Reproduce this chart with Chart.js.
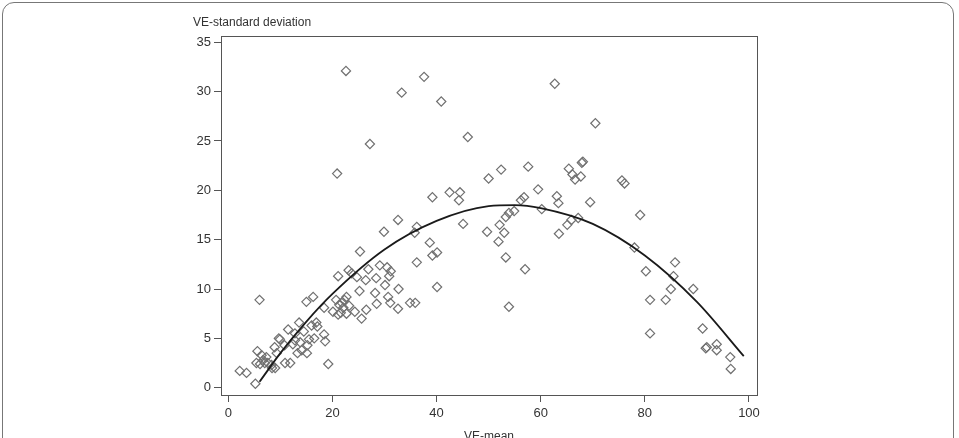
<!DOCTYPE html>
<html>
<head>
<meta charset="utf-8">
<script src="https://cdn.jsdelivr.net/npm/chart.js@4/dist/chart.umd.min.js"></script>
<style>
  html, body { margin: 0; padding: 0; background: #fff; overflow: hidden; }
  #frame {
    position: absolute; left: 2px; top: 2px; width: 952px; height: 470px;
    border: 1px solid #777; border-radius: 12px; box-sizing: border-box;
  }
  #wrap { position: absolute; left: 0; top: 0; width: 959px; height: 448px; }
</style>
</head>
<body>
<div id="frame"></div>
<div id="wrap"><canvas id="chart"></canvas></div>
<script>
// VE-mean / VE-standard deviation pairs
const veMean = [
  2.2, 3.5, 5.2, 5.6, 5.4, 6.1, 6.4, 6.0, 6.7, 7.3, 7.6, 8.4, 9.0, 9.3, 8.9, 9.7, 9.9, 10.9, 11.9, 11.5, 10.8, 7.0, 8.3,
  12.4, 12.8, 12.8, 13.6, 13.3, 14.1, 15.1, 13.8, 14.5, 15.0, 16.3, 16.0, 16.9, 17.1, 15.2, 15.5, 16.5, 18.4, 18.6, 19.2, 18.4,
  20.1, 20.7, 21.3, 21.1, 21.6, 21.8, 22.3, 22.7, 22.1, 22.7, 23.2, 24.3, 25.6, 26.5, 28.5, 31.1, 32.6, 34.9, 35.9,
  30.7, 28.2, 25.2, 30.1, 32.7, 40.1, 21.1, 23.1, 23.7, 24.7, 26.4, 28.4, 26.9, 29.1, 30.5, 31.2, 30.9, 25.3, 20.9, 27.2,
  29.9, 32.6, 36.2, 35.8, 36.2, 38.7, 39.2, 40.1, 39.2, 42.5, 44.5, 44.3, 45.1,
  22.6, 33.3, 37.6, 40.9, 46.0, 62.7, 70.5,
  50.0, 52.4, 57.6, 65.4, 66.1, 67.7, 66.6, 68.1, 67.9, 59.5, 63.1, 63.4, 69.5, 56.8, 56.2, 60.2, 54.9, 53.9, 53.3,
  52.1, 53.0, 49.7, 51.9, 53.3, 57.0, 53.9, 63.5, 65.1, 65.9, 67.2,
  75.6, 76.1, 79.1, 78.0, 85.8, 80.2, 85.5, 89.3, 85.0, 81.0, 84.0, 81.0, 91.1, 91.9, 91.7, 93.8, 93.8, 96.4, 96.5
];
const veSd = [
  1.7, 1.5, 0.4, 3.7, 2.5, 2.4, 3.3, 8.9, 2.8, 3.1, 2.5, 2.0, 2.0, 3.5, 4.1, 5.0, 4.9, 2.5, 2.5, 5.9, 4.3, 2.5, 2.3,
  4.4, 5.5, 4.8, 6.6, 3.5, 3.8, 3.5, 4.6, 5.7, 8.7, 9.2, 6.3, 6.6, 6.2, 4.3, 4.9, 5.0, 5.4, 4.7, 2.4, 8.1,
  7.7, 8.9, 8.4, 7.4, 7.6, 8.6, 8.9, 9.2, 8.1, 7.5, 8.3, 7.7, 7.0, 7.9, 8.5, 8.6, 8.0, 8.6, 8.6,
  9.2, 9.6, 9.8, 10.4, 10.0, 10.2, 11.3, 11.9, 11.6, 11.2, 10.9, 11.1, 12.0, 12.4, 12.2, 11.8, 11.3, 13.8, 21.7, 24.7,
  15.8, 17.0, 16.3, 15.7, 12.7, 14.7, 13.4, 13.7, 19.3, 19.8, 19.8, 19.0, 16.6,
  32.1, 29.9, 31.5, 29.0, 25.4, 30.8, 26.8,
  21.2, 22.1, 22.4, 22.2, 21.6, 21.4, 21.1, 22.9, 22.8, 20.1, 19.4, 18.7, 18.8, 19.3, 19.0, 18.1, 17.9, 17.7, 17.3,
  16.5, 15.7, 15.8, 14.8, 13.2, 12.0, 8.2, 15.6, 16.5, 17.0, 17.2,
  21.0, 20.7, 17.5, 14.2, 12.7, 11.8, 11.3, 10.0, 10.0, 8.9, 8.9, 5.5, 6.0, 4.1, 4.0, 4.4, 3.8, 3.1, 1.9
];

// fitted curve
const fitX = [6, 10, 15, 20, 30, 40, 50, 55, 60, 70, 80, 90, 99];
const fitY = [0.6, 3.5, 6.7, 9.5, 14.0, 16.9, 18.4, 18.5, 18.2, 16.6, 13.4, 8.7, 3.2];

const xTicks = [0, 20, 40, 60, 80, 100];
const yTicks = [0, 5, 10, 15, 20, 25, 30, 35];

const points = veMean.map((x, i) => ({ x: x, y: veSd[i] }));
const curve = fitX.map((x, i) => ({ x: x, y: fitY[i] }));

const inkColor = '#555';

const boxPlugin = {
  id: 'box',
  afterDraw(chart) {
    const { ctx, chartArea: a } = chart;
    ctx.save();
    ctx.strokeStyle = inkColor;
    ctx.lineWidth = 1;
    ctx.strokeRect(Math.round(a.left) + 0.5, Math.round(a.top) + 0.5,
      Math.round(a.right - a.left), Math.round(a.bottom - a.top));
    // y axis title sits horizontally above the axis
    ctx.fillStyle = '#333';
    ctx.font = '12px "Liberation Sans", Arial, sans-serif';
    ctx.textAlign = 'left';
    ctx.textBaseline = 'alphabetic';
    ctx.fillText('VE-standard deviation', a.left - 28, a.top - 10);
    ctx.restore();
  }
};

new Chart(document.getElementById('chart'), {
  type: 'scatter',
  data: {
    datasets: [
      {
        label: 'VE',
        data: points,
        pointStyle: 'rectRot',
        pointRadius: 4.6,
        pointBorderColor: '#707070',
        pointBackgroundColor: 'rgba(255,255,255,0)',
        pointBorderWidth: 1.2,
        order: 2
      },
      {
        type: 'line',
        label: 'fit',
        data: curve,
        borderColor: '#1a1a1a',
        borderWidth: 1.8,
        pointRadius: 0,
        fill: false,
        cubicInterpolationMode: 'monotone',
        order: 1
      }
    ]
  },
  options: {
    responsive: true,
    maintainAspectRatio: false,
    animation: false,
    layout: { padding: { left: 0, right: 202, top: 36, bottom: 0 } },
    plugins: {
      legend: { display: false },
      tooltip: { enabled: false }
    },
    scales: {
      x: {
        type: 'linear',
        min: -1.4,
        max: 101.54,
        afterBuildTicks: s => { s.ticks = xTicks.map(v => ({ value: v })); },
        afterFit: s => { s.height = 53; },
        grid: { drawOnChartArea: false, drawTicks: true, tickLength: 7, color: inkColor },
        border: { display: true, color: inkColor },
        ticks: {
          color: '#333',
          padding: 4,
          maxRotation: 0,
          font: { family: '"Liberation Sans", Arial, sans-serif', size: 13 }
        },
        title: {
          display: true,
          text: 'VE-mean',
          color: '#333',
          padding: { top: 0, bottom: 4 },
          font: { family: '"Liberation Sans", Arial, sans-serif', size: 12 }
        }
      },
      y: {
        type: 'linear',
        min: -0.74,
        max: 35.64,
        afterBuildTicks: s => { s.ticks = yTicks.map(v => ({ value: v })); },
        afterFit: s => { s.width = 221; },
        grid: { drawOnChartArea: false, drawTicks: true, tickLength: 7, color: inkColor },
        border: { display: true, color: inkColor },
        ticks: {
          color: '#333',
          padding: 3,
          font: { family: '"Liberation Sans", Arial, sans-serif', size: 13 }
        }
      }
    }
  },
  plugins: [boxPlugin]
});
</script>
</body>
</html>
